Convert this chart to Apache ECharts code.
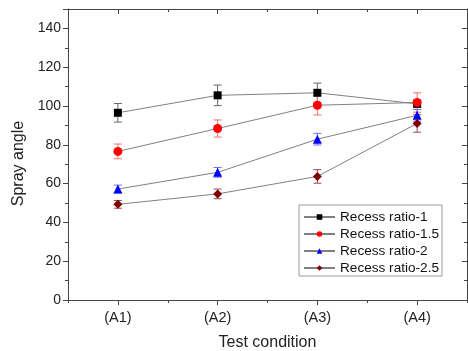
<!DOCTYPE html>
<html><head><meta charset="utf-8">
<script src="https://cdn.jsdelivr.net/npm/echarts@6/dist/echarts.min.js"></script>
<style>html,body{margin:0;padding:0;background:#fff}#c{width:468px;height:351px}</style>
</head><body><div id="c"></div>
<script>
const categories = ['(A1)', '(A2)', '(A3)', '(A4)'];
const seriesNames = ['Recess ratio-1', 'Recess ratio-1.5', 'Recess ratio-2', 'Recess ratio-2.5'];
const ratio1 = [96.5, 105.5, 106.8, 101.1];
const ratio1Err = [4.8, 5.3, 5.0, 1.5];
const ratio15 = [76.6, 88.4, 100.4, 101.8];
const ratio15Err = [3.8, 4.4, 5.0, 5.0];
const ratio2 = [57.2, 65.8, 82.9, 95.2];
const ratio2Err = [2.0, 2.5, 3.0, 3.0];
const ratio25 = [49.3, 54.7, 63.7, 91.0];
const ratio25Err = [2.0, 2.5, 3.5, 4.5];
const yTicks = [0, 20, 40, 60, 80, 100, 120, 140];

const values = [ratio1, ratio15, ratio2, ratio25];
const errs = [ratio1Err, ratio15Err, ratio2Err, ratio25Err];
const markerColors = ['#000000', '#ff0000', '#0000ff', '#800000'];
const errColors = ['#666666', '#f07070', '#7070ff', '#a04848'];
const symbols = ['rect', 'circle', 'triangle', 'diamond'];
const symbolSizes = [8, 9, 9, 9];
const FONT = 'Liberation Sans, Arial, sans-serif';

const chart = echarts.init(document.getElementById('c'), null, {renderer: 'canvas'});

const axisLineStyle = {color: '#444', width: 1};
const series = [];
values.forEach((v, k) => {
  series.push({
    type: 'custom',
    xAxisIndex: 0, yAxisIndex: 0,
    z: 1,
    silent: true,
    data: v.map((val, i) => [i, val - errs[k][i], val + errs[k][i]]),
    renderItem: function (params, api) {
      const lo = api.coord([api.value(0), api.value(1)]);
      const hi = api.coord([api.value(0), api.value(2)]);
      const w = 4;
      const st = {stroke: errColors[k], lineWidth: 1};
      return {type: 'group', children: [
        {type: 'line', shape: {x1: lo[0], y1: lo[1], x2: hi[0], y2: hi[1]}, style: st},
        {type: 'line', shape: {x1: lo[0] - w, y1: lo[1], x2: lo[0] + w, y2: lo[1]}, style: st},
        {type: 'line', shape: {x1: hi[0] - w, y1: hi[1], x2: hi[0] + w, y2: hi[1]}, style: st}
      ]};
    }
  });
});
values.forEach((v, k) => {
  series.push({
    name: seriesNames[k],
    type: 'line',
    xAxisIndex: 0, yAxisIndex: 0,
    z: 3,
    data: v,
    symbol: symbols[k],
    symbolSize: symbolSizes[k],
    itemStyle: {color: markerColors[k]},
    lineStyle: {color: '#808080', width: 1},
    animation: false
  });
});

const option = {
  animation: false,
  textStyle: {fontFamily: FONT},
  grid: {left: 68, right: 1, top: 9, bottom: 51, containLabel: false, outerBoundsMode: 'none'},
  legend: {
    data: seriesNames,
    orient: 'vertical',
    left: 299, top: 205,
    itemWidth: 31, itemHeight: 7, itemGap: 3,
    padding: [5, 3, 1, 4],
    borderColor: '#9a9a9a', borderWidth: 1,
    textStyle: {fontSize: 13.6, color: '#111', fontFamily: FONT},
    backgroundColor: '#fff'
  },
  xAxis: [
    {type: 'category', data: categories, position: 'bottom', boundaryGap: true,
     axisLine: {show: true, lineStyle: axisLineStyle},
     axisTick: {show: true, alignWithLabel: true, length: 5, lineStyle: axisLineStyle},
     axisLabel: {fontSize: 14.5, color: '#222', margin: 10, fontFamily: FONT},
     splitLine: {show: false},
     name: 'Test condition', nameLocation: 'middle', nameGap: 35,
     nameTextStyle: {fontSize: 16, color: '#222', fontFamily: FONT}},
    {type: 'category', data: categories, position: 'bottom', boundaryGap: true,
     axisLine: {show: false},
     axisTick: {show: true, alignWithLabel: false, length: 3, lineStyle: axisLineStyle},
     axisLabel: {show: false}, splitLine: {show: false}},
    {type: 'category', data: categories, position: 'top', boundaryGap: true,
     axisLine: {show: true, lineStyle: axisLineStyle},
     axisTick: {show: true, inside: true, alignWithLabel: true, length: 5, lineStyle: axisLineStyle},
     axisLabel: {show: false}, splitLine: {show: false}},
    {type: 'category', data: categories, position: 'top', boundaryGap: true,
     axisLine: {show: false},
     axisTick: {show: true, inside: true, alignWithLabel: false, length: 3, lineStyle: axisLineStyle},
     axisLabel: {show: false}, splitLine: {show: false}}
  ],
  yAxis: [
    {type: 'value', position: 'left', min: 0, max: 150, interval: 20,
     axisLine: {show: true, lineStyle: axisLineStyle},
     axisTick: {show: true, length: 5, lineStyle: axisLineStyle},
     minorTick: {show: true, splitNumber: 2, length: 3, lineStyle: axisLineStyle},
     splitLine: {show: false},
     axisLabel: {fontSize: 14, color: '#222', margin: 7, fontFamily: FONT,
       formatter: v => yTicks.indexOf(v) >= 0 ? String(v) : ''},
     name: 'Spray angle', nameLocation: 'middle', nameGap: 41, nameRotate: 90,
     nameTextStyle: {fontSize: 16, color: '#222', fontFamily: FONT, padding: [0, 18, 0, 0]}},
    {type: 'value', position: 'right', min: 0, max: 150, interval: 20,
     axisLine: {show: true, lineStyle: axisLineStyle},
     axisTick: {show: true, inside: true, length: 5, lineStyle: axisLineStyle},
     minorTick: {show: true, splitNumber: 2, length: 3, lineStyle: axisLineStyle},
     splitLine: {show: false},
     axisLabel: {show: false}}
  ],
  series: series
};
chart.setOption(option);
</script></body></html>
